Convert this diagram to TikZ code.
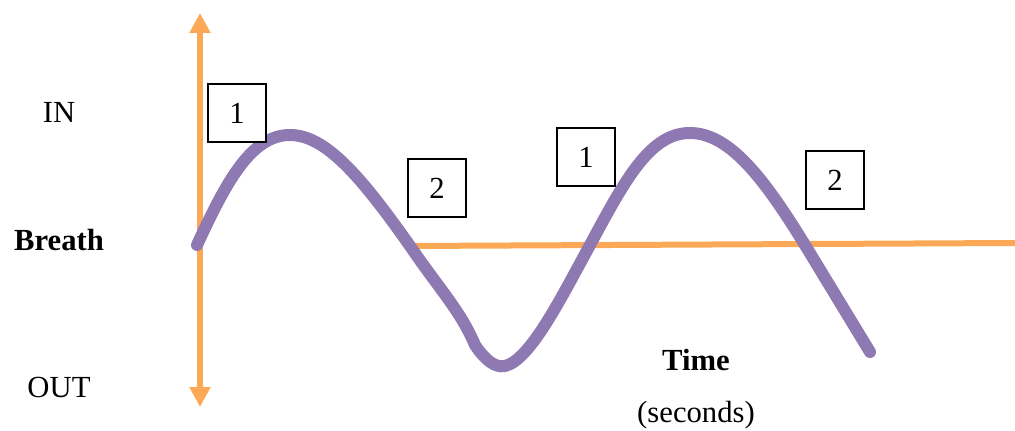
\documentclass[tikz,border=0pt]{standalone}
\usepackage{fontspec}
\setmainfont{Liberation Serif}
\usepackage{xcolor}
\usetikzlibrary{arrows.meta}
\definecolor{axisorange}{HTML}{FBA956}
\definecolor{breathpurple}{HTML}{8F79B2}

\tikzset{
  axisline/.style={draw=axisorange,line width=4.5pt},
  breathline/.style={draw=breathpurple,line width=9pt,line cap=round},
  phasebox/.style={draw=black,fill=white,line width=1.2pt,minimum width=43.5pt,minimum height=43.5pt,inner sep=0pt},
  label/.style={font=\fontsize{23}{27}\selectfont}
}

\begin{document}
\begin{tikzpicture}[x=0.75pt,y=-0.75pt]
  \useasboundingbox (0,0) rectangle (1015,431);
  % axes
  \coordinate (top) at (200,13);
  \coordinate (bottom) at (200,407);
  \coordinate (zero) at (410,246);
  \coordinate (end) at (1015,243);
  \draw[axisline,{Triangle[width=15pt,length=15pt]}-{Triangle[width=15pt,length=15pt]}] (bottom) -- (top);
  \draw[axisline] (zero) -- (end);
  % breathing curve
  \draw[breathline] (197,245) .. controls (225,185) and (250,135) .. (290,135)
    .. controls (325,135) and (360,175) .. (zero)
    .. controls (440,290) and (460,310) .. (475,345)
    .. controls (485,360) and (495,368) .. (505,366)
    .. controls (530,360) and (560,300) .. (590,245)
    .. controls (625,180) and (650,133) .. (690,133)
    .. controls (730,133) and (765,180) .. (805,245)
    -- (870,352);
  % phase boxes
  \node[phasebox,label] (inhaleA) at (237,113) {1};
  \node[phasebox,label] (exhaleA) at (437,188) {2};
  \node[phasebox,label] (inhaleB) at (586,157) {1};
  \node[phasebox,label] (exhaleB) at (835,180) {2};
  % labels
  \node[label] (in) at (59,112) {IN};
  \node[label,font=\fontsize{23}{27}\selectfont\bfseries] (breath) at (59,240) {Breath};
  \node[label] (out) at (59,387) {OUT};
  \node[label,font=\fontsize{23}{27}\selectfont\bfseries] (time) at (696,360) {Time};
  \node[label] (seconds) at (696,415) {(seconds)};
\end{tikzpicture}
\end{document}
